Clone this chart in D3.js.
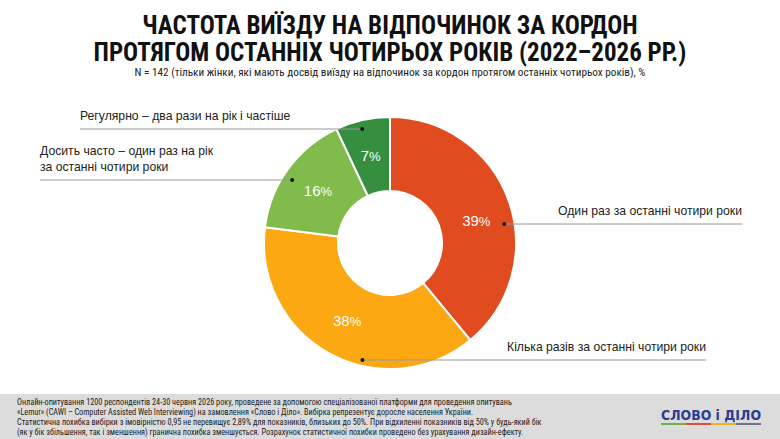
<!DOCTYPE html>
<html>
<head>
<meta charset="utf-8">
<script src="https://cdn.jsdelivr.net/npm/d3@7"></script>
<style>
  body { margin: 0; background: #fff; }
  svg { display: block; }
</style>
</head>
<body>
<svg id="chart"></svg>
<script>
// Data
const categories = [
  "Один раз за останні чотири роки",
  "Кілька разів за останні чотири роки",
  "Досить часто – один раз на рік за останні чотири роки",
  "Регулярно – два рази на рік і частіше"
];
const values = [39, 38, 16, 7];
const colors = ["#E04B1F", "#FCA812", "#80BB4C", "#368E3F"];
const titleLines = [
  "ЧАСТОТА ВИЇЗДУ НА ВІДПОЧИНОК ЗА КОРДОН",
  "ПРОТЯГОМ ОСТАННІХ ЧОТИРЬОХ РОКІВ (2022–2026 РР.)"
];
const subtitle = "N = 142 (тільки жінки, які мають досвід виїзду на відпочинок за кордон протягом останніх чотирьох років), %";
const footnote = [
  "Онлайн-опитування 1200 респондентів 24-30 червня 2026 року, проведене за допомогою спеціалізованої платформи для проведення опитувань",
  "«Lemur» (CAWI – Computer Assisted Web Interviewing) на замовлення «Слово і Діло». Вибірка репрезентує доросле населення України.",
  "Статистична похибка вибірки з імовірністю 0,95 не перевищує 2,89% для показників, близьких до 50%. При відхиленні показників від 50% у будь-який бік",
  "(як у бік збільшення, так і зменшення) гранична похибка зменшується. Розрахунок статистичної похибки проведено без урахування дизайн-ефекту."
];

// Label layout (positions only)
const labelLayout = [
  { side: "right", lineY: 224, endX: 742, lines: ["Один раз за останні чотири роки"], frac: 0.57, pctFrac: 0.54 },
  { side: "right", lineY: 360, endX: 706, lines: ["Кілька разів за останні чотири роки"], frac: 0.39, pctFrac: 0.5 },
  { side: "left", lineY: 180, endX: 40, lines: ["Досить часто – один раз на рік", "за останні чотири роки"], frac: 0.44, pctFrac: 0.5 },
  { side: "left", lineY: 129, endX: 80, lines: ["Регулярно – два рази на рік і частіше"], frac: 0.45, pctFrac: 0.5 }
];

const W = 780, H = 439;
const cx = 390, cy = 243;
const outerR = 126, innerR = 52, dotR = 116, pctR = 89;
const condensed = "'Liberation Sans Narrow', 'Arial Narrow', 'Roboto Condensed', sans-serif";
const sans = "'Liberation Sans', Arial, sans-serif";

const svg = d3.select("#chart").attr("width", W).attr("height", H);

// Title
svg.selectAll(".title")
  .data(titleLines)
  .enter()
  .append("text")
  .attr("x", W / 2)
  .attr("y", (d, i) => 34 + i * 27)
  .attr("text-anchor", "middle")
  .style("font-family", condensed)
  .style("font-weight", "bold")
  .style("font-size", "25px")
  .style("fill", "#111")
  .text(d => d);

svg.append("text")
  .attr("x", W / 2)
  .attr("y", 76)
  .attr("text-anchor", "middle")
  .style("font-family", condensed)
  .style("font-size", "11.2px")
  .style("fill", "#222")
  .text(subtitle);

// Donut
const pie = d3.pie().sort(null).value(d => d)(values);
const arc = d3.arc().innerRadius(innerR).outerRadius(outerR);

const g = svg.append("g").attr("transform", `translate(${cx},${cy})`);

g.selectAll("path")
  .data(pie)
  .enter()
  .append("path")
  .attr("d", arc)
  .style("fill", (d, i) => colors[i])
  .style("stroke", "#fff")
  .style("stroke-width", 2);

// Percent labels inside slices
const pct = g.selectAll(".pct")
  .data(pie)
  .enter()
  .append("text")
  .attr("transform", (d, i) => {
    const a = d.startAngle + (d.endAngle - d.startAngle) * labelLayout[i].pctFrac;
    return `translate(${pctR * Math.sin(a)},${-pctR * Math.cos(a)})`;
  })
  .attr("text-anchor", "middle")
  .attr("dy", "0.35em")
  .style("font-family", sans)
  .style("font-size", "15px")
  .style("fill", "#fff");
pct.append("tspan").text(d => d.data);
pct.append("tspan").style("font-size", "13px").text("%");

// Leader lines and category labels
pie.forEach((d, i) => {
  const lay = labelLayout[i];
  const a = d.startAngle + (d.endAngle - d.startAngle) * lay.frac;
  const dx = cx + dotR * Math.sin(a);

  svg.append("line")
    .attr("x1", dx).attr("y1", lay.lineY)
    .attr("x2", lay.endX).attr("y2", lay.lineY)
    .style("stroke", "#999")
    .style("stroke-width", 1);

  svg.append("circle")
    .attr("cx", dx).attr("cy", lay.lineY)
    .attr("r", 2)
    .style("fill", "#111");

  const n = lay.lines.length;
  svg.selectAll(null)
    .data(lay.lines)
    .enter()
    .append("text")
    .attr("x", lay.endX)
    .attr("y", (t, j) => lay.lineY - 9 - (n - 1 - j) * 16)
    .attr("text-anchor", lay.side === "right" ? "end" : "start")
    .style("font-family", sans)
    .style("font-size", "12.2px")
    .style("fill", "#222")
    .text(t => t);
});

// Footer band
svg.append("rect")
  .attr("x", 0).attr("y", 394)
  .attr("width", W).attr("height", H - 394)
  .style("fill", "#dcdcdc");

svg.selectAll(".foot")
  .data(footnote)
  .enter()
  .append("text")
  .attr("x", 17)
  .attr("y", (d, i) => 405 + i * 10)
  .style("font-family", condensed)
  .style("font-size", "8.2px")
  .style("fill", "#222")
  .text(d => d);

// Logo
svg.append("text")
  .attr("x", 711)
  .attr("y", 420)
  .attr("text-anchor", "middle")
  .attr("textLength", 100)
  .attr("lengthAdjust", "spacingAndGlyphs")
  .style("font-family", "'DejaVu Sans', sans-serif")
  .style("font-weight", "bold")
  .style("font-size", "14px")
  .style("fill", "#2C3E8F")
  .text("СЛОВО і ДІЛО");

const logoColors = ["#6BB34A", "#E04B3A", "#F5B31B", "#6D7584"];
const logoX = d3.scaleBand().domain(d3.range(4)).range([661, 761]);
svg.selectAll(".logobar")
  .data(logoColors)
  .enter()
  .append("rect")
  .attr("x", (d, i) => logoX(i))
  .attr("y", 423)
  .attr("width", logoX.bandwidth())
  .attr("height", 2)
  .style("fill", d => d);
</script>
</body>
</html>
